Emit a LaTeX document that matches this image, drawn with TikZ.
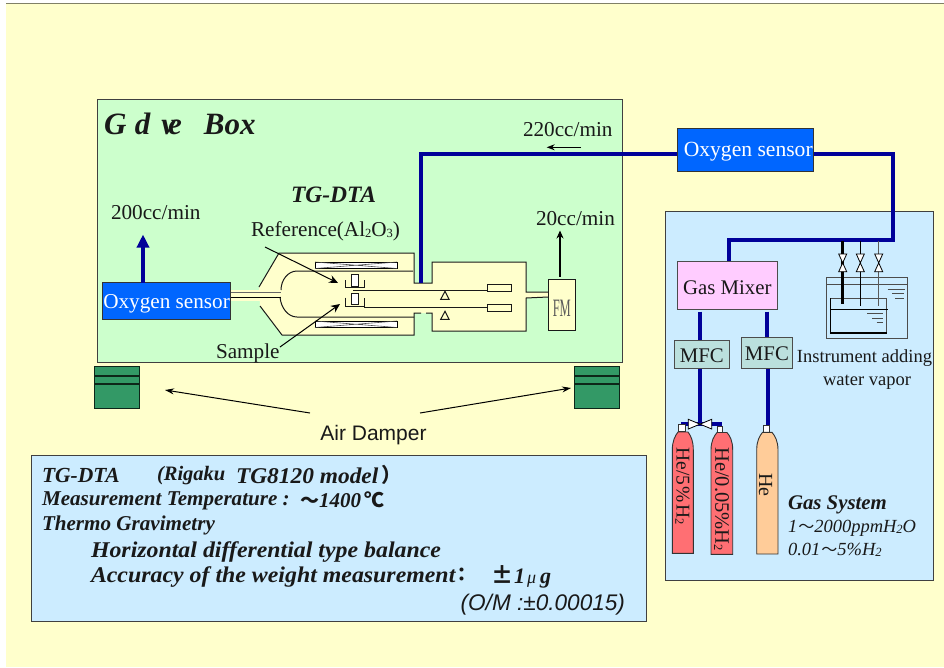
\documentclass[tikz,border=0pt]{standalone}
\usepackage{fontspec}
\setmainfont{Liberation Serif}
\setsansfont{Liberation Sans}
\newfontfamily\cjk{Noto Sans CJK JP}
\usetikzlibrary{arrows.meta}
\definecolor{bgyellow}{HTML}{FFFFCC}
\definecolor{panelgreen}{HTML}{CCFFCC}
\definecolor{panelblue}{HTML}{CCECFF}
\definecolor{sensorblue}{HTML}{0066FF}
\definecolor{pipeblue}{HTML}{000099}
\definecolor{mixpink}{HTML}{FFCCFF}
\definecolor{mfcteal}{HTML}{BBE0DD}
\definecolor{damper}{HTML}{339966}
\definecolor{cylred}{HTML}{FF6F73}
\definecolor{cylorange}{HTML}{FFCC99}
\newcommand{\fs}[1]{\fontsize{#1}{#1}\selectfont}
\newcommand{\subx}[1]{\raisebox{-1.2pt}{\fs{12.5}#1}}
\newcommand{\wider}[2]{\scalebox{#1}[1]{#2}}
\newcommand{\lowered}[2]{\raisebox{-#1}[\height][\depth]{#2}}
\tikzset{
 x=1pt,y=-1pt,
 every node/.style={inner sep=0pt,outer sep=0pt,font=\fs{21.2},text=black!90},
 panel/.style={draw=black!75,line width=1pt,anchor=north west},
 sensor/.style={draw=black!80,fill=sensorblue,line width=1pt,text=white,anchor=north west},
 pipe/.style={draw=pipeblue,line width=4pt},
 furn/.style={draw=black!90,line width=1pt,line join=miter},
 leader/.style={draw=black,line width=1pt,-{Stealth[length=9pt,width=8pt]}},
 valve/.style={draw=black,fill=white,line width=.8pt},
 cyl/.style={draw=black!80,line width=.9pt},
 cylcap/.style={draw=black!80,fill=white,line width=.8pt},
 gray edge/.style={draw=black!70,line width=1pt}
}
\begin{document}
\begin{tikzpicture}
\useasboundingbox (0,0) rectangle (944,667);
\fill[bgyellow] (6,3) rectangle (944,667);
\draw[draw=black!50!bgyellow,line width=1pt] (6,3.5) -- (944,3.5);

% panels
\node[panel,fill=panelgreen,minimum width=525pt,minimum height=263pt] (glove) at (97,99) {};
\node[panel,fill=panelblue,minimum width=268pt,minimum height=369pt] (gas) at (665.5,211) {};
\node[panel,fill=panelblue,minimum width=615pt,minimum height=166pt] (info) at (31,455) {};

\node[anchor=west,font=\fs{31}\bfseries\itshape] (gbox) at (104,124) {G\kern8.5pt d\kern11pt v\kern-7pt e\kern22pt Box};
\node[font=\fs{23.5}\bfseries\itshape] (tgdta) at (333.5,194.5) {TG-DTA};

% furnace body
\fill[bgyellow] (230,290) rectangle (262,301);
\path[furn,fill=bgyellow,draw=none] (259,287) -- (279,253) -- (414,253) -- (414,283) -- (432,283) -- (432,262) -- (526,262) -- (526,292) -- (548,292) -- (548,297) -- (526,298) -- (526,331) -- (432,331) -- (432,313) -- (414,313) -- (414,335) -- (282,335) -- (260,306) -- cycle;
\draw[furn] (259,287) -- (279,253) -- (414,253) -- (414,283) -- (432,283) -- (432,262) -- (526,262) -- (526,292) -- (548,292);
\draw[furn] (548,297) -- (526,298) -- (526,331) -- (432,331) -- (432,313) -- (426,313);
\draw[furn] (421,313) -- (414,313) -- (414,335) -- (282,335) -- (260,306);
% inner tube
\draw[furn] (413,271) -- (297,271) .. controls (288,271) and (281,280) .. (281,290);
\draw[furn] (280,297) .. controls (281,308) and (288,317) .. (297,317) -- (414,317);
% heaters
\foreach \yy in {262,321}{
 \draw[draw=black,fill=white,line width=1pt] (315,\yy) rectangle (397,\yy+6.5);
 \draw[draw=black!70,line width=.6pt] (315,\yy) -- (397,\yy+6.5) (315,\yy+6.5) -- (397,\yy);
}
% pans and samples
\draw[furn,fill=white] (351.5,274.5) rectangle (358.5,286.5);
\draw[furn,fill=white] (351.5,293.5) rectangle (358.5,304.5);
\draw[furn] (345,280) -- (345,287.5) -- (364,287.5) -- (364,280);
\draw[furn] (345,297.5) -- (345,306) -- (364,306) -- (364,297.5);
% beams and counterweights
\node[furn,fill=bgyellow,anchor=north west,minimum width=24pt,minimum height=7pt] (cwa) at (487.5,284.5) {};
\node[furn,fill=bgyellow,anchor=north west,minimum width=24pt,minimum height=7.5pt] (cwb) at (487.5,304) {};
\coordinate (beamA) at (353,290);
\coordinate (beamB) at (364,307.7);
\draw[furn] (beamA) -- (beamA -| cwa.west);
\draw[furn] (beamB) -- (beamB -| cwb.west);
\draw[furn] (440.7,299.3) -- (449,299.3) -- (445,291.3) -- cycle;
\draw[furn] (440.7,319.3) -- (449,319.3) -- (445,311.3) -- cycle;

% oxygen sensors
\node[sensor,minimum width=128.5pt,minimum height=36.5pt] (oxa) at (102.3,282.5) {\lowered{3pt}{Oxygen sensor}};
\coordinate (tubeTop) at (281,292);
\coordinate (tubeBot) at (281,297);
\draw[draw=black!60,line width=1pt] (tubeTop -| oxa.east) -- (tubeTop);
\draw[draw=black,line width=1pt] (tubeBot -| oxa.east) -- (tubeBot);

% FM
\node[furn,fill=bgyellow,anchor=north west,minimum width=27pt,minimum height=50.5pt] (fm) at (548.3,279.7) {};
\node[font=\fs{25},text=black!65,yshift=-3pt] (fmtext) at (fm.center) {\scalebox{.5}[1]{FM}};

% labels and flows
\node[anchor=west] (l220) at (523,130) {220cc/min};
\node[anchor=west] (l200) at (111,213) {200cc/min};
\node[anchor=west] (l20) at (536,219) {20cc/min};
\node[anchor=west] (lref) at (251,231) {Reference(Al\subx{2}O\subx{3})};
\node[anchor=west] (lsam) at (216,353) {Sample};
\coordinate (a220s) at (581,147.3);
\coordinate (a220e) at (546.7,147.3);
\draw[draw=black,line width=1pt,-{Stealth[length=8pt,width=6pt]}] (a220s) -- (a220e);
\coordinate (a20e) at (560,230.5);
\draw[draw=black,line width=1.5pt,-{Stealth[length=8pt,width=7pt]}] (a20e |- fm.north) ++(0,-3) -- (a20e);
\coordinate (a200e) at (143,234.5);
\draw[draw=pipeblue,line width=3.5pt,-{Triangle[length=13pt,width=12pt]}] (a200e |- oxa.north) -- (a200e);

% pipes
\coordinate (mainEnter) at (420.7,283);
\coordinate (mainCorner) at (420.7,153.7);
\coordinate (oxbIn) at (677,153.7);
\coordinate (oxbOut) at (813.7,153.7);
\coordinate (cornerA) at (892.5,153.7);
\coordinate (cornerB) at (892.5,240);
\coordinate (cornerC) at (729,240);
\path[pipe] (mainEnter) -- (mainCorner) -- (oxbIn);
\node[sensor,minimum width=136.5pt,minimum height=42.5pt] (oxb) at (677,128.5) {\kern6pt\lowered{2pt}{\fs{21.6}Oxygen sensor}};

% leaders
\coordinate (refTail) at (265,247);
\coordinate (refTip) at (338,283);
\coordinate (samTail) at (280,347);
\coordinate (samTip) at (340,304);
\draw[leader] (refTail) -- (refTip);
\draw[leader] (samTail) -- (samTip);

% dampers
\foreach \nm/\xx in {dampa/94.5,dampb/574.5}{
 \node[draw=black!75!damper,fill=damper,line width=1.2pt,anchor=north west,minimum width=45pt,minimum height=41.5pt] (\nm) at (\xx,366.7) {};
 \draw[draw=black!75!damper,line width=1.1pt] (\xx,376) -- +(45,0) (\xx,384) -- +(45,0);
}
\node[font=\fs{21}\sffamily] (air) at (373.5,435.5) {Air Damper};
\coordinate (airL) at (310,413);
\coordinate (airR) at (420,413);
\draw[draw=black,line width=1pt,-{Stealth[length=9pt,width=6pt]}] (airL) -- (165,390);
\draw[draw=black,line width=1pt,-{Stealth[length=9pt,width=6pt]}] (airR) -- (571,388);

% gas system
\node[panel,fill=mixpink,anchor=north west,draw=black!70,minimum width=100.5pt,minimum height=48pt] (mixer) at (677,261.3) {\lowered{2.5pt}{\fs{20.8}Gas Mixer}};
\node[panel,fill=mfcteal,draw=black!70,minimum width=55pt,minimum height=28.5pt] (mfca) at (674.3,340) {\lowered{1pt}{\fs{20.8}MFC}};
\node[panel,fill=mfcteal,draw=black!70,minimum width=50.5pt,minimum height=31.5pt] (mfcb) at (741.7,337.3) {\lowered{1pt}{\fs{20.8}MFC}};

\path[pipe] (oxbOut) -- (cornerA) -- (cornerB) -- (cornerC) -- (cornerC |- mixer.north);
\coordinate (mixA) at (700.3,311.5);
\coordinate (mixB) at (767,311.5);
\path[pipe] (mixA) -- (mixA |- mfca.north);
\path[pipe] (mixB) -- (mixB |- mfcb.north);

% water vapour instrument
\draw[gray edge] (826,277.7) rectangle (907.3,338.3);
\draw[gray edge] (826,284.3) -- (907.3,284.3);
\draw[gray edge,line width=.9pt] (887.7,289.3) -- (905,289.3) (892.3,293.3) -- (904.3,293.3) (895.3,298.3) -- (903.7,298.3);
\draw[gray edge,line width=1.1pt] (830.3,298.3) rectangle (886.7,332.7);
\draw[draw=black,line width=1.6pt] (830.3,298.3) -- (830.3,332.7) -- (886.7,332.7);
\draw[draw=black,line width=1pt] (830.3,309.3) -- (887.7,309.3);
\draw[gray edge,line width=.9pt] (867.3,313.7) -- (883.3,313.7) (872.3,318) -- (883.3,318) (876.7,322.3) -- (883.3,322.3);
\coordinate (wa) at (842.7,241);
\coordinate (wb) at (860.3,241);
\coordinate (wc) at (878.7,241);
\draw[draw=black,line width=3.2pt] (wa) -- (842.7,304);
\draw[draw=black,line width=1pt] (wb) -- (860.3,305.7);
\draw[draw=black!65,line width=1.2pt] (wc) -- (878.7,305.7);
\foreach \xx in {842.7,860.3,878.7}{
 \draw[valve] (\xx-4,254) -- (\xx+4,254) -- (\xx-4,271.7) -- (\xx+4,271.7) -- cycle;
}
\node[anchor=center,font=\fs{18.5}] (instA) at (864.5,358.5) {Instrument adding};
\node[anchor=center,font=\fs{18.5}] (instB) at (867,382) {water vapor};

% MFC lines and cylinders
\coordinate (cylA) at (700.3,424);
\coordinate (cylC) at (768.3,426);
\path[pipe] (cylA |- mfca.south) -- (cylA);
\path[pipe] (cylC |- mfcb.south) -- (cylC);
\coordinate (junL) at (681,424);
\coordinate (junR) at (722.3,424);
\path[pipe,line width=3.5pt] (junL) -- (junR);
\draw[valve] (688.3,419.3) -- (711.7,429) -- (711.7,419.3) -- (688.3,429) -- cycle;

\draw[cylcap] (678.3,424.5) rectangle (685,431.7);
\draw[cylcap] (717,426) rectangle (722.3,432.7);
\draw[cylcap] (763.3,425.7) rectangle (769.3,432.3);

\draw[cyl,fill=cylred] (672.3,553.3) -- (672.3,450) .. controls (672.3,441) and (675,436) .. (678,432) -- (688,432) .. controls (691,436) and (693.3,441) .. (693.3,450) -- (693.3,553.3) -- cycle;
\draw[cyl,fill=cylred] (711,554.3) -- (711,450) .. controls (711,441) and (714,436) .. (717,432.5) -- (727,432.5) .. controls (730,436) and (732.7,441) .. (732.7,450) -- (732.7,554.3) -- cycle;
\draw[cyl,fill=cylorange] (756.7,554) -- (756.7,450) .. controls (756.7,441) and (759.5,436) .. (762.5,432.3) -- (772,432.3) .. controls (775,436) and (778,441) .. (778,450) -- (778,554) -- cycle;

\node[rotate=-90,font=\fs{19.5}] (ca) at (682.5,486) {He/5\kern1pt\%\kern2pt H\subx{2}};
\node[rotate=-90,font=\fs{20.5}] (cb) at (721.5,499) {He/0.05\%H\subx{2}};
\node[rotate=-90,font=\fs{20}] (cc) at (765.5,485) {He};

\node[anchor=west,font=\fs{20.8}\bfseries\itshape] (gs) at (788,504.5) {Gas System};
\node[anchor=west,font=\fs{18.5}\itshape] (gsa) at (788,528.5) {1\kern1pt{\cjk\fs{16}～}2000ppmH\subx{2}O};
\node[anchor=west,font=\fs{18.5}\itshape] (gsb) at (788,550) {0.01\kern1pt{\cjk\fs{16}～}5\%H\subx{2}};

% info text
\node[anchor=west,font=\fs{21.5}\bfseries\itshape] (ia) at (42,475.5) {TG-DTA};
\node[anchor=west,font=\fs{20.5}\bfseries\itshape] (ib) at (157,475.5) {(Rigaku};
\node[anchor=west,font=\fs{22.5}\bfseries\itshape] (ic) at (236,475.5) {\wider{1.04}{TG8120 model}};
\node[anchor=west,font=\cjk\fs{20}\bfseries] (id) at (381,475) {）};
\node[anchor=west,font=\fs{21.1}\bfseries\itshape] (ie) at (42,500.5) {Measurement Temperature :};
\node[anchor=west,font=\fs{21}\bfseries\itshape] (if) at (300,500.5) {{\cjk\fs{19}～}1400};
\node[anchor=west,font=\cjk\fs{20}\bfseries] (ig) at (364,500) {℃};
\node[anchor=west,font=\fs{21.1}\bfseries\itshape] (ih) at (42,525.5) {Thermo Gravimetry};
\node[anchor=west,font=\fs{22.5}\bfseries\itshape] (ii) at (91,551.5) {\wider{1.06}{Horizontal differential type balance}};
\node[anchor=west,font=\fs{22.5}\bfseries\itshape] (ij) at (91,576.5) {\wider{1.06}{Accuracy of the weight measurement}};
\node[anchor=west,font=\cjk\fs{19}\bfseries] (ik) at (452,575) {：};
\node[anchor=west,font=\fs{22}\bfseries\itshape] (il) at (491,576.5) {{\cjk\fs{22}±}\kern1pt 1\kern2pt{\normalfont\itshape\fs{18}μ}\kern4pt g};
\node[anchor=east,font=\fs{22.6}\sffamily\itshape] (im) at (625,604.5) {(O/M :±0.00015)};
\end{tikzpicture}
\end{document}
